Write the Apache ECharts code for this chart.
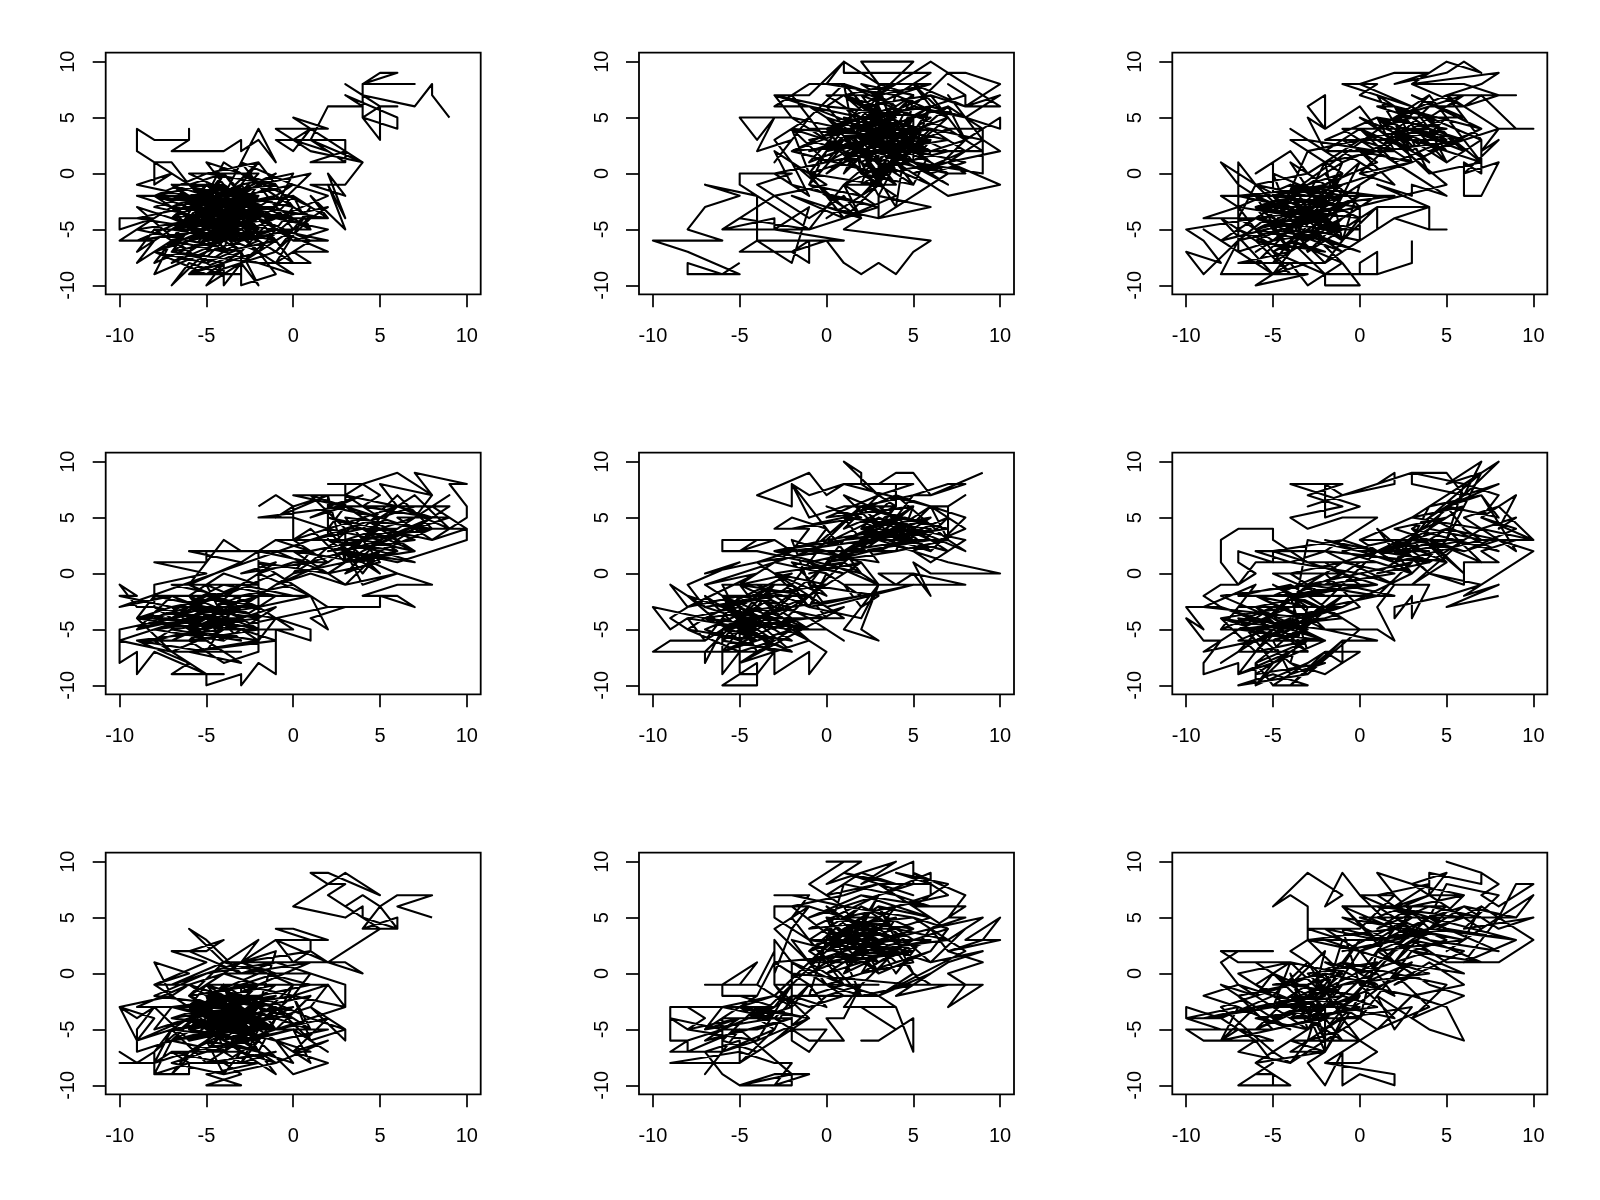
<!DOCTYPE html>
<html><head><meta charset="utf-8">
<style>html,body{margin:0;padding:0;background:#fff}#c{width:1600px;height:1200px}</style>
<script src="https://cdn.jsdelivr.net/npm/echarts@6/dist/echarts.min.js"></script>
</head><body><div id="c"></div>
<script>
const tickValues=[-10,-5,0,5,10];
const walk1=[[9,5],[8,7],[8,8],[7,6],[4,7],[3,8],[5,6],[4,7],[4,8],[7,8],[4,8],[5,9],[6,9],[4,8],[4,5],[5,6],[6,6],[5,6],[5,3],[4,5],[6,4],[6,5],[3,7],[4,6],[2,6],[1,3],[3,3],[3,1],[1,3],[4,1],[2,3],[0,5],[2,4],[-1,4],[0,3],[1,4],[0,2],[-1,3],[3,3],[3,2],[1,1],[3,1],[2,2],[0,3],[1,2],[4,1],[3,-1],[1,-1],[3,-2],[2,0],[3,-4],[2,-1],[3,-5],[1,-2],[2,-4],[0,-2],[1,-5],[-1,-3],[0,0],[-3,-1],[-2,1],[-4,-2],[-2,4],[-1,1],[-2,3],[-3,2],[-3,3],[-4,2],[-7,2],[-6,3],[-6,4],[-6,3],[-8,3],[-9,4],[-9,2],[-6,-1],[-7,1],[-8,1],[-8,-1],[-7,0],[-9,-1],[-6,-2],[-9,-2],[-7,-3],[-8,-4],[-10,-4],[-10,-5],[-8,-4],[-10,-6],[-8,-6],[-9,-8],[-7,-6],[-8,-9],[-5,-7],[-7,-10],[-6,-8],[-4,-9],[-5,-10],[-4,-8],[-4,-10],[-3,-8],[-2,-10],[-3,-7],[-3,-10],[-1,-9],[-2,-7],[0,-9],[-2,-8],[1,-8],[0,-7],[2,-7],[-1,-5],[2,-6],[0,-6],[2,-5],[-1,-4],[2,-4],[-2,-3],[0,-1],[-3,-2],[-1,0],[-5,-3],[-4,0],[-6,-4],[-3,-5],[-7,-4],[-4,-6],[-7,-7],[-5,-5],[-8,-5],[-6,-7],[-3,-4]];
const core1=[-6,-1,-4,-4,-2,-2,-5,-2,-2,-6,-5,-4,-3,-1,-6,-3,-2,-5,-7,-2,-4,-3,-1,-2,-5,-6,-2,-4,-6,-6,-3,-3,-7,-5,-3,-6,-6,-2,-1,-1,-5,1,-4,-1,-7,-3,-4,-5,-1,-6,-4,-7,-6,-5,-3,-2,-5,-1,-2,-3,-6,0,-2,0,-5,-5,-1,-4,-4,-2,-6,-4,-3,-6,-5,-8,-2,-6,-4,-3,-7,-6,-4,-4,-1,-3,-5,-3,-3,-5,-6,-6,-3,-7,-5,-4,-2,-5,-4,-1,-6,-3,-3,-4,-5,-7,-4,-5,-7,-4,-3,-3,-5,-2,-2,-2,-4,-6,-6,-5,-3,-1,-1,-5,-5,-6,-3,-2,-6,-2,-2,-4,-4,-4,-7,-7,-4,-8,-2,-7,-6,-9,-3,-9,-5,-9,-8,-7,-5,-5,-9,-6,-6,-4,-8,-2,-5,0,-2,1,0,-3,-3,0,1,-3,-1,-7,1,-4,-2,-1,0,-5,-3,-6,-6,-3,-4,-1,-5,-6,-1,-2,-6,-7,-3,-2,-4,-5,-2,-1,-7,-5,-3,-4,-5,-3,-2,-7,-6,-1,-4,-2,-1,-5,-5,-7,-3,-3,-6,-4,-4,0,-2,-4,-5,-1,-7,-6,-3,-5,-1,-3,-4,-6,-6,-2,-2,-3,-5,-5,-3,-6,-7,-1,-4,-4,-2,-7,-5,-2,-6,-3,-1,-4,-4,-6,-3,-3,-2,-5,-5,-2,-6,-5,-4,-3,0,-2,-3,-7,-6,-4,-1,-5,-4,-2,-2,-6,-5,-3,-4,-7,-3,-1,-6,-4,-5,-2,-4,-5,-2,-4,-7,-3,-6,-5,-2,-3,-3,-6,-4,-1,-1,-4,-6,-2,-3,-5,-5,-4,-2,-6,-7,-4,-3,-1,-5,-3,-1,-6,-4,-5,-6,-7,-2,-2,-4,-3,-6,-6,-3,-4,-5,-1,-2,-5,-4,-6,-7,-3,-4,-2,-2,-4,-5,-5,-3,-3,-1,-3,-6,-4,-4,-7,-2,-5,-6,-1,-4,-3];
const fill1=[-8,-2,-5,-1,-7,-4,-9,-3,-6,-7,-8,-5,-9,-7,-6,-4,-8,-8,-5,-6,-7,-8,-4,-6,-6,-9,-3,-7,-5,-9,-1,-7,-3,-5,0,-8,-2,-4,1,-6,-1,-8,1,-3,0,-5,-2,-7,2,-3,-1,-4,2,-2,0,-1,-3,1,-1,-3,1,0,-2,-1,-4,1,-5,-2,-7,-1,-4,-1,-8,-3,-5,-4,-9,-5,-6,-6,-8,-7,-5,-8,-3,-6,-6,-5,-7,-7,-2,-8,-4,-7,-7,-6,-4,-9,-1,-6,-3,-8,0,-4,-4,-3,-1,-1,-5,0,-8,-2,-6,-3,-9,-4,-5,-5,-2,-7,0,-3,-3,-2,1,-5,-1,-5,-4,0,-6,-1,-3,-3,0,-6];
const walk2=[[-5,-8],[-6,-9],[-8,-8],[-8,-9],[-5,-9],[-8,-7],[-10,-6],[-6,-6],[-8,-5],[-7,-3],[-5,-2],[-7,-1],[-4,-2],[-5,-1],[-5,0],[-2,0],[-4,-1],[-3,-2],[-6,-5],[-3,-4],[-3,-5],[-1,-5],[-5,-4],[-6,-5],[-1,-5],[-4,-2],[-4,-6],[-1,-6],[1,-6],[-3,-5],[-1,-3],[-2,-8],[-3,-7],[-4,-6],[-5,-7],[-2,-7],[-1,-6],[-1,-8],[-2,-7],[0,-6],[1,-8],[2,-9],[3,-8],[4,-9],[5,-7],[6,-6],[1,-5],[2,-4],[0,-3],[3,-4],[3,-2],[6,-3],[3,-4],[4,-3],[5,-2],[7,0],[6,-1],[7,-2],[10,-1],[7,1],[8,0],[7,0],[5,1],[9,0],[9,3],[10,2],[7,1],[9,3],[9,4],[8,3],[10,5],[10,4],[8,5],[10,7],[8,6],[10,8],[8,9],[7,9],[10,6],[8,6],[8,7],[7,8],[8,7],[6,6],[8,5],[5,6],[7,9],[6,10],[4,8],[6,8],[3,7],[5,10],[2,10],[3,8],[1,10],[1,9],[6,9],[4,7],[0,8],[1,10],[-1,7],[-3,7],[-2,5],[-5,5],[-4,3],[-3,5],[-4,2],[-2,3],[-3,1],[-1,5],[1,8],[-1,8],[-3,6],[-1,6],[-3,7],[0,6],[1,7],[4,8],[2,6],[6,7],[3,5]];
const core2=[1,0,3,6,0,2,5,4,-1,4,2,1,6,5,3,2,7,3,1,5,4,-1,2,3,6,2,0,5,3,0,5,6,1,3,4,4,-1,1,2,6,6,1,3,3,0,0,5,5,2,2,7,5,4,1,1,6,3,4,-1,2,6,4,2,-2,5,3,0,4,4,6,2,0,7,2,3,5,1,1,5,7,3,1,-1,3,4,5,2,4,6,3,0,1,3,7,5,2,1,-1,4,3,-2,2,2,5,6,6,3,-1,0,3,5,1,2,7,7,4,4,2,1,4,-1,0,5,3,3,2,6,5,0,6,4,-1,2,1,3,-2,5,4,1,7,3,6,2,2,0,4,4,7,2,-1,6,3,5,1,1,4,3,0,-2,2,5,6,4,3,3,8,3,1,0,4,6,2,5,-1,2,5,1,3,4,0,3,6,2,2,3,-1,4,4,5,7,1,3,0,1,6,6,5,2,2,5,3,3,7,-1,1,4,2,1,4,3,-1,6,3,2,5,5,0,0,3,4,6,2,1,7,4,3,3,1,2,5,6,4,0,2,-1,-1,3,6,4,3,5,1,1,5,2,4,4,2,7,6,1,3,4,0,2,5,3,1,6,3,-2,4,2,2,3,7,3,-1,5,5,5,1,4,3,1,8,2,0,0,4,3,4,6,2,2,2,6,6,3,3,1,0,5,7,4,-3,2,2,3,-1,-1,0,1,-4,-2,-2,0,-3,2,-4,1,-1,-1,-5,3,-3,-2,-1];
const fill2=[-3,2,-1,0,-2,4,0,1,-3,0,-1,-2,-2,1,1,-3,-1,-1,2,-2,0,-4,3,-1,1,-4,4,-2,2,0,5,-1,3,1,6,-1,4,1,7,0,5,2,8,1,6,0,8,3,6,2,9,2,7,4,9,4,7,6,8,3,6,7,8,6,5,8,7,5,4,7,6,8,3,8,5,7,2,8,4,6,1,8,3,7,0,7,2,5,-1,6,1,4,-2,5,0,3,-2,7,-1,5,-3,3,-2,1,0,-1,-3,-2,-1,-4,1,-2,2,-4,0,-2,3,-3,1,-1,4,-1,3,0,7,1,5,0,8,2,6,4,9,3,7,7,8,5,6,6,5,8];
const walk3=[[3,-6],[3,-8],[1,-9],[0,-9],[0,-8],[1,-7],[1,-9],[-2,-9],[-2,-10],[0,-10],[-1,-8],[-3,-10],[-4,-8],[-6,-10],[-3,-9],[-8,-9],[-7,-6],[-9,-9],[-10,-7],[-8,-8],[-9,-6],[-10,-5],[-6,-4],[-9,-4],[-7,-3],[-8,-2],[-6,-2],[-7,-1],[-8,1],[-6,-1],[-7,1],[-7,-5],[-7,-7],[-5,-6],[-7,-4],[-6,-1],[-3,0],[-4,2],[-6,0],[-5,1],[-5,-2],[-2,-1],[-3,-2],[-1,0],[-4,3],[-3,3],[-4,4],[-2,2],[-3,5],[-2,4],[-3,6],[-2,7],[-2,4],[0,6],[1,4],[3,5],[1,6],[2,6],[4,5],[0,7],[1,8],[-1,8],[3,6],[0,8],[2,9],[4,9],[2,8],[5,9],[6,10],[7,9],[5,10],[4,9],[3,8],[8,9],[7,8],[5,7],[9,7],[8,7],[6,6],[7,7],[9,4],[10,4],[8,4],[7,2],[8,3],[6,0],[8,1],[7,-2],[6,-2],[6,1],[7,0],[7,3],[5,1],[3,3],[7,1],[4,0],[2,3],[5,4],[1,5],[3,2],[0,4],[2,1],[5,3],[1,3],[4,4],[-1,4],[3,0],[5,-2],[3,-1],[3,-2],[1,-1],[4,-3],[2,-4],[1,-5],[1,-3],[4,-3],[4,-5],[5,-5],[4,-5],[2,-4],[0,-6],[0,-3]];
const core3=[-2,0,-1,-2,2,-2,-3,-3,0,1,-2,-5,1,-2,-4,-1,0,-4,-5,-3,-1,1,-3,-6,-1,-3,-6,-5,-2,-2,-5,-6,-1,-5,-6,-3,-2,-4,-7,-6,-3,-1,-5,-4,0,-7,-4,-5,-6,-7,-2,-3,-4,-3,-7,-2,-1,-1,-5,-5,-2,-6,-4,-2,-6,-4,-1,-7,-3,-5,-4,-6,-2,-7,-6,-6,-3,-4,0,-2,-5,-7,-1,-4,-3,-7,-4,-4,-6,-2,-3,-2,-2,1,-1,-6,-5,-2,-2,-2,-6,-8,-3,-8,-5,-9,-4,-7,-7,-8,-2,-8,-4,-5,-6,-3,-2,-1,1,1,-1,3,-2,2,2,2,0,3,3,4,6,3,4,2,7,4,3,7,6,5,2,5,5,7,8,7,6,8,3,8,6,6,4,6,0,0,2,-1,0,2,3,1,-3,-2,-6,-1,-4,-4,-1,-1,-5,-6,-2,-3,-6,-3,-4,-2,-2,-5,0,-3,-5,-2,-1,0,-3,-6,-6,-5,-1,-2,-4,-1,-7,-3,-3,-4,0,-5,-2,-5,-6,-4,-1,-3,-5,-2,-3,-6,-1,-2,-6,-3,-4,-7,-2,-2,-5,0,-4,-4,-6,-1,-1,-5,-3,-3,-1,-6,-4,1,-2,-1,-5,-5,-3,2,3,4,6,2,1,5,3,3,2,6,5,1,4,4,1,7,3,2,5,5,2,3,4,0,2,6,7,4,3,1,2,5,6,3,1,2,4,7,1,4,5,-1,3];
const fill3=[-8,-6,-6,-8,-9,-5,-7,-7,-5,-9,-8,-4,-6,-6,-4,-9,-7,-3,-5,-7,-2,-9,-4,-6,-1,-8,-3,-5,0,-6,-2,-8,0,-4,-3,-7,1,-3,-1,-6,0,-1,-2,-3,1,0,-1,2,-3,0,0,3,-2,1,1,2,-3,3,-1,1,2,3,0,0,3,1,1,3,-1,3,0,4,2,2,1,5,-2,3,3,3,0,5,4,1,2,4,5,2,3,6,6,2,4,5,7,3,5,7,8,4,6,3,4,7,7,1,3,6,1,7,5,3,3,4,6,7,2,5,-6,-4,-8,-6,-5,-3,-7,-5,-4,-7,-6,-2,-3,-4,-5,-8,-2,-5,-4,-1,-1,-3];
const walk4=[[-2,6],[-1,7],[0,6],[-1,5],[2,7],[0,6],[0,3],[2,4],[0,5],[-2,5],[3,6],[0,7],[1,7],[3,7],[4,8],[2,8],[3,8],[3,6],[1,7],[3,4],[3,1],[2,7],[2,3],[-1,3],[1,2],[-1,2],[-5,2],[-3,2],[-4,3],[-5,1],[-5,2],[-6,2],[-3,1],[-6,-1],[-5,1],[-8,1],[-5,0],[-8,-1],[-8,-3],[-9,-3],[-10,-1],[-9,-2],[-10,-2],[-7,-3],[-9,-4],[-7,-4],[-10,-5],[-10,-7],[-10,-8],[-9,-7],[-9,-9],[-8,-7],[-5,-9],[-6,-8],[-7,-9],[-4,-9],[-5,-9],[-5,-10],[-3,-9],[-3,-10],[-2,-8],[-1,-9],[-1,-5],[1,-6],[1,-5],[-1,-4],[2,-3],[3,-3],[1,-4],[2,-5],[1,-2],[2,-3],[5,-3],[5,-2],[7,-3],[6,-2],[4,-2],[6,-1],[8,-1],[6,0],[4,-1],[3,2],[6,1],[8,2],[10,3],[10,4],[8,3],[10,5],[10,6],[9,8],[10,8],[7,9],[8,7],[6,9],[4,8],[5,7],[4,6],[8,5],[6,6],[9,4],[7,7],[5,5],[3,4],[6,4],[2,2],[7,3],[4,5],[1,1],[5,3],[3,0],[6,2],[2,3],[5,0]];
const core4=[3,3,7,5,4,2,2,0,5,1,3,5,8,4,6,7,4,4,1,3,7,6,3,6,5,6,9,6,6,3,4,1,0,2,3,-1,1,0,-1,-1,2,1,0,1,-2,0,1,-2,-1,0,-4,-2,0,-2,-3,-1,-6,-3,-2,-3,-5,-2,-8,-4,-3,-5,-7,-2,-2,-5,-6,-6,-4,-3,-9,-4,-5,-5,-1,-3,-4,-6,-8,-5,-3,-3,-6,-1,-2,-4,-7,-5,-3,-6,-5,-3,-9,-5,-4,-1,-1,-2,-5,-6,-8,-6,-3,-4,-6,-4,-2,-2,-7,-6,-4,-4,-2,-6,-6,-5,-4,-7,-8,-3,-5,-4,-1,-6,-6,-7,-3,-7,-7,-7,-4,-5,-9,-6,-5,-7,-3,-2,-6,-2,-4,0,-2,-1,-7,-1,-4,-2,-1,1,-3,0,1,1,-2,2,-2,-7,-4,-8,-6,-6,-3,-3,-7,-4,-5,-2,-2,-4,-6,-3,-3,-5,-8,-4,-4,-2,-7,-3,-5,-6,-2,-3,-6,-4,-3,-2,-8,-2,-5,-3,-1,-4,-4,-5,-7,-4,-3,-1,-6,-5,-4,-3,-2,-5,-5,-4,-8,-5,-3,-4,-6,-2,-4,-6,-7,-3,-2,-3,-5,-1,-4,-4,-6,-5,-3,-3,1,1,3,2,5,4,2,5,6,3,3,6,7,4,4,2,8,5,5,3,2,4,6,6,4,3,7,2,3,1,5,5,1,3];
const fill4=[-10,-3,-7,-2,-9,-5,-6,-4,-10,-6,-7,-7,-9,-4,-8,-2,-5,-3,-8,-6,-6,-8,-9,-6,-5,-6,-3,-8,-6,-7,-2,-6,-1,-4,-4,-5,0,-5,-2,-3,1,-2,-3,-2,0,-1,-2,1,2,0,-1,2,1,2,0,0,3,1,1,4,0,3,2,1,4,3,2,3,5,2,3,1,6,2,4,4,7,2,5,4,8,3,6,5,9,5,7,4,10,4,8,6,6,4,9,7,7,5,8,7,5,8,6,6,3,7,5,5,2,6,4,7,1,5,3,6,2,4,4,0,5,2,7,1,3,2,6,0,3,-1,5,2,8,4,4,3,1,2,-1,3,-3,1];
const walk5=[[9,9],[6,7],[5,7],[7,8],[8,8],[6,7],[5,9],[4,9],[3,8],[4,8],[4,6],[2,8],[2,9],[1,10],[3,7],[5,8],[1,8],[6,6],[7,6],[8,7],[7,6],[7,3],[8,2],[5,4],[8,3],[6,1],[5,2],[7,1],[10,0],[6,0],[5,1],[6,-2],[5,0],[8,-1],[4,-1],[5,0],[3,0],[4,-1],[1,-1],[2,-3],[3,-2],[-1,-1],[0,-3],[5,-1],[-1,-3],[2,-4],[3,-1],[1,-5],[3,-6],[2,-5],[3,-1],[2,1],[-2,-3],[2,-2],[-1,1],[-4,2],[-6,2],[-6,3],[-3,3],[-2,2],[-3,3],[-5,2],[-4,3],[-3,3],[-2,2],[-1,4],[-3,4],[-2,5],[0,4],[-1,6],[-2,8],[-2,6],[-4,7],[-1,9],[0,7],[1,8],[-1,7],[-2,8],[-1,5],[1,6],[4,6],[1,4],[3,7],[0,5],[5,6],[2,3],[6,5],[1,2],[4,4],[0,3],[2,6],[-1,2],[3,5],[6,3],[2,2],[5,5],[0,1],[4,2],[-2,2],[7,4],[1,3],[3,4],[5,3],[2,4],[4,7],[1,5],[6,4],[3,2],[0,2],[2,1],[-1,0],[1,1],[-3,0],[0,-1],[-4,-2],[-1,-2],[-5,-1],[-2,0]];
const core5=[-6,-3,-3,-2,-7,-3,-3,-5,-5,-1,-1,-4,-6,-5,-2,-6,-7,-1,-4,-4,-8,-2,-5,-6,-2,-2,-6,-2,-3,-7,-7,-5,-4,-3,-1,-5,-5,-4,-2,-4,-6,-7,-4,-6,-7,-4,-3,-3,-6,-6,-2,-7,-5,-3,-8,-4,-4,-5,-6,-4,-3,-6,-7,-2,-5,-5,-3,-1,-7,-7,-4,-7,-6,-1,-2,-1,-4,1,-7,0,-5,1,-8,-1,-7,-3,-9,-1,-8,-3,-9,-4,-8,-5,-7,-4,-10,-3,-9,-5,-8,-4,-7,-6,-9,-6,-10,-7,-7,-7,-7,-8,-6,-5,-6,-9,-5,-7,-5,-9,-4,-8,-4,-9,-3,-7,-3,-9,-2,-8,-1,-7,-1,-9,0,-7,-2,-5,0,-5,1,-6,-1,-4,1,-3,-5,-8,-5,-9,-4,-9,-4,-10,-6,-10,-5,-9,-5,-2,-2,-3,-4,-1,-1,-3,-3,0,0,-2,-2,1,1,0,-1,1,2,2,-3,2,0,3,-2,-1,-5,-4,-3,-2,-6,-3,-3,-5,-1,-2,-4,-4,-6,-5,-2,-3,-5,-6,-3,-4,-6,-2,-4,-7,-2,-5,-7,-4,-3,-1,-5,-3,-1,-6,-4,-2,-6,-6,-3,-3,1,2,3,3,5,2,2,4,6,5,3,2,5,4,1,3,4,5,7,4,2,6,4,3,6,2,3,5,1,1,5,6,4,2,7,3,2,3,4,6,3,4];
const fill5=[-7,-1,-4,0,-8,-3,-5,-2,-7,-6,-4,-3,-6,-7,-2,-5,-5,-8,-1,-6,-3,-4,1,-4,-2,-1,-1,-3,0,0,-3,1,-5,-1,-2,2,-4,1,0,2,-2,3,-1,-1,1,3,-3,2,2,0,0,4,-1,2,3,1,1,5,-2,4,2,5,0,6,3,4,1,7,4,5,2,6,5,7,3,3,6,6,4,3,7,5,5,2,8,4,6,6,7,3,4,7,8,5,6,2,3,6,5,4,7,2,2,4,4,5,1,2,5,3,0,1,3,-1,1,1,-1,-2,0,-4,-3,-3,-5,-5,-2,-7,-6,-4,-4,-6,-8,-5,-5,-7,-3,-6,-6,-3,-1,-5,-4,-2];
const walk6=[[8,-2],[5,-3],[8,-1],[6,-2],[10,2],[8,3],[10,3],[7,4],[9,5],[8,4],[9,7],[7,5],[8,7],[6,8],[7,9],[5,8],[7,10],[6,7],[8,10],[6,8],[3,9],[3,8],[6,7],[5,9],[3,9],[1,8],[2,9],[2,8],[-1,7],[1,8],[-3,6],[-1,7],[-2,8],[-2,5],[0,6],[-4,8],[-1,8],[-3,7],[-1,6],[-4,5],[-3,4],[-1,5],[1,5],[-2,2],[-5,2],[-3,1],[-5,3],[-5,4],[-7,4],[-8,3],[-8,1],[-7,-1],[-6,0],[-7,1],[-7,2],[-5,1],[-5,2],[-6,2],[-4,1],[-6,1],[-7,-1],[-8,-1],[-9,-2],[-8,-3],[-10,-3],[-9,-5],[-10,-4],[-9,-6],[-8,-6],[-9,-8],[-9,-9],[-7,-8],[-7,-9],[-5,-8],[-6,-10],[-6,-8],[-5,-10],[-3,-10],[-5,-9],[-7,-10],[-3,-9],[-4,-8],[-2,-9],[-1,-8],[-2,-7],[0,-7],[-1,-8],[-1,-6],[1,-6],[-2,-5],[1,-5],[2,-6],[1,-3],[2,-1],[4,-1],[3,-4],[3,-2],[2,-4],[2,-3],[5,-2],[7,-1],[4,0],[6,-1],[6,1],[8,1],[7,2],[9,3],[7,3],[6,4],[5,6],[8,5],[7,7],[4,6],[3,3],[6,2],[2,4],[5,5],[1,2],[4,3],[0,3],[3,5],[6,6],[2,2],[4,1],[1,0]];
const core6=[3,2,5,4,-1,1,2,0,-2,-1,0,1,-3,1,1,-1,-4,-2,-1,0,-5,0,-2,-2,-6,-2,-3,-3,-7,-3,-1,-3,-5,-4,-8,-2,-3,-1,-6,-5,-2,-4,-7,-5,-4,-3,-8,-4,-4,-6,-1,-2,-5,-6,-3,-5,-6,-4,-2,-6,-7,-6,-4,-4,-6,-7,-3,-7,-5,-5,-8,-5,-5,-3,-2,-3,-4,-1,-7,-2,-3,-2,0,-1,-2,1,1,1,3,0,-1,2,2,3,4,2,0,2,-3,3,-4,-5,-6,-6,-7,-7,-5,-7,-4,-7,-6,-9,-2,-8,-4,-9,-5,-6,-3,-4,-6,-2,-2,-5,-7,-4,-4,-8,-3,-3,-5,-1,-1,-4,-4,-2,-7,-7,-5,-5,-2,-3,-6,-8,-3,-6,-8,-3,-4,-5,0,-3,-2,0,-5,-2,1,-1,-3,-1,-1,1,-4,0,-2,-2,1,-2,3,1,0,0,2,-1,-2,2,4,1,2,3,6,3,3,2,5,6,4,4,7,3,2,1,4,5,8,2,3,4,6,7,2,2,5,3,3,0,-1,-3,-5,-4,-2,-6,-6,-3,-3,-7,-4,-2,-2,-5,-7,-4,-5,-8,-6,-6,-3,-4,-1,-3,-6,-5,-4,-2,-1,-1,-3,-4,-2];
const fill6=[-9,-3,-6,-1,-8,-5,-5,-3,-9,-7,-6,-6,-8,-8,-5,-5,-7,-9,-4,-7,-6,-10,-3,-8,-5,-10,-2,-7,-4,-10,-1,-6,-3,-9,0,-5,-2,-3,1,-2,-3,-1,0,0,-4,1,-2,2,-5,2,-1,3,1,2,-2,3,2,1,0,3,3,0,1,4,4,0,2,3,5,1,3,4,6,0,4,3,7,1,5,4,8,3,6,2,9,4,7,5,10,3,8,6,6,5,9,2,7,7,5,6,8,8,6,7,4,5,7,9,5,3,6,8,3,5,7,4,4,1,6,3,3,-1,5,1,1,2,-1,-1,2,-2,-3,-2,-6,-3,-4,-5,-8,-4,-6,-7,-3,-6,-5,-8,-2,-6,-7,-5,-1,-4];
const walk7=[[8,5],[6,6],[8,7],[6,7],[5,6],[6,4],[6,5],[4,4],[5,6],[4,7],[3,6],[5,4],[2,7],[3,8],[2,8],[1,9],[2,9],[5,7],[3,9],[0,6],[3,5],[4,6],[4,5],[6,4],[4,4],[5,4],[2,1],[1,2],[1,3],[2,3],[0,4],[-1,4],[1,3],[-1,3],[-2,2],[-3,1],[1,2],[0,1],[-1,3],[2,1],[3,1],[4,0],[2,1],[-1,1],[1,0],[3,-1],[3,-3],[2,-1],[1,-3],[3,-5],[3,-6],[1,-3],[-1,-4],[1,-5],[-1,-5],[2,-5],[-1,-6],[1,-7],[0,-7],[2,-8],[0,-9],[-2,-6],[-4,-8],[-3,-9],[-5,-10],[-3,-10],[-5,-9],[-2,-8],[-6,-8],[-8,-9],[-8,-7],[-9,-8],[-10,-7],[-9,-8],[-10,-8],[-8,-8],[-7,-7],[-6,-8],[-6,-9],[-8,-9],[-7,-6],[-9,-7],[-9,-5],[-8,-3],[-6,-6],[-8,-3],[-9,-4],[-10,-3],[-9,-6],[-8,-4],[-10,-3],[-7,-2],[-6,-1],[-8,-1],[-7,-2],[-8,1],[-6,0],[-8,-1],[-5,1],[-7,2],[-5,2],[-4,3],[-6,2],[-3,0],[-5,3],[-6,4],[-4,1],[-2,3],[-3,1],[-1,0],[-3,-1],[-5,-2]];
const core7=[-2,-2,-6,-3,-3,-3,-6,-5,-2,-4,-5,-1,-1,-3,-5,-5,-2,-1,-6,-2,-3,-5,-7,-4,-3,-2,-6,-6,-1,-2,-4,-4,-7,-5,-2,-6,-5,-3,-3,-7,-6,-4,-4,-1,-1,-1,-5,-6,-2,-3,-4,-2,-6,-1,-3,-4,-5,-4,-2,-5,-4,-6,-6,-3,-3,-3,-5,-7,-2,-2,-7,-3,-4,-3,-1,-5,-4,-5,-6,-7,-3,-6,0,-2,-3,-1,-5,-2,-2,0,-4,0,-6,-2,-3,-4,-1,-4,-5,-5,-3,-2,-6,-5,-2,-3,-4,-7,-7,-6,-3,-5,-5,-1,-1,-1,-4,-2,-2,-5,-6,-4,-3,-3,-5,-3,-2,-1,-4,-4,0,-3,-4,-6,-2,-7,-5,-6,-3,-8,-1,-7,-5,-8,-4,-8,-7,-7,-3,-7,-1,-8,-4,-9,-7,-8,-5,-7,0,-5,-3,-6,1,-4,-2,-2,1,-1,-4,1,-1,1,-3,0,1,0,0,-2,-4,-3,-2,-4,-6,-6,-3,-5,-5,-2,-2,-3,-4,-1,-5,-4,-3,-2,-6,-3,-4,-5,-2,-6,-4,-4,-1,-2,-5,-3,-2,-7,-4,-1,-3,-6,-5,-5,-3,-4,-2,-6,-6,-2,-1,-5,-4,-3,-6,-4,-3,-6,-1,-3,-5,-2,-4,-7,-2,-4,-5,-1,-6,-3,-3,-5,-2,-2,-7,-6,-5,-3,0,-4,-4,-2,-1,-5,-6,-3,-2,-4,-3,-6,-4,-2,-6,-3,-1,-5,-3,-1,-3,-4,-5,-2,-2,-6,-3,-3,-7,-4,-1,-5,-5,-2,-4,-6,-2,-3,-6,-4,-4,-1,-2,-5,-7,-3,-3,-4,-5,-2,-1,-6,-6,-4,-3,-5,-2,-3,-4,-1,-6,-5,-2,-6,-4,-3,-3,-2,-5,-4,-1,-4,-7,-5,-4,-2,-3,-3];
const fill7=[-8,-2,-5,0,-7,-1,-4,1,-6,-2,-3,1,-5,0,-1,1,-3,0,1,1,-2,-1,2,-1,0,-2,3,-3,1,-4,3,-5,1,-6,2,-7,0,-5,1,-8,-1,-6,0,-8,-2,-7,-1,-9,-3,-7,-4,-9,-5,-6,-7,-9,-6,-7,-8,-8,-7,-5,-9,-6,-6,-4,-8,-5,-7,-3,-9,-3,-6,-1,-4,0,-2,-1,0,-1,-3,1,-1,2,-2,-3,1,-2,-1,-5,2,-4,0,-7,2,-6,-1,-8,-3,-6,-5,-8,-7,-5,-8,-7,-5,-3,-7,-6,-2,-4,0,-1,-2,-7,-1,-4,-3,-8,-2,-5,-1,-3,1,-5,0,-2,1,-6,-1,-3,-6,-7,-4,-5,-7,-2];
const walk8=[[-2,-9],[-5,-10],[-3,-9],[-1,-9],[-3,-10],[-5,-10],[-6,-9],[-7,-7],[-5,-6],[-5,-8],[-9,-8],[-5,-7],[-3,-8],[-2,-8],[-3,-10],[-2,-10],[-2,-9],[-5,-5],[-7,-9],[-5,-5],[-8,-7],[-9,-7],[-8,-6],[-9,-6],[-9,-5],[-9,-3],[-6,-3],[-8,-3],[-7,-4],[-8,-5],[-9,-4],[-6,-5],[-8,-6],[-8,-7],[-6,-7],[-6,-4],[-4,-2],[-6,-2],[-6,-1],[-7,-1],[-5,-1],[-4,1],[-6,-1],[-4,-1],[-3,2],[-3,-1],[-2,-3],[-2,1],[-3,3],[-3,0],[-2,4],[-1,6],[-3,6],[-3,5],[-2,4],[-1,3],[-2,5],[-1,7],[-3,7],[-2,7],[1,6],[-1,8],[1,10],[0,10],[2,10],[0,8],[2,9],[4,10],[2,8],[5,10],[5,8],[3,7],[6,9],[6,7],[4,6],[7,7],[5,9],[8,7],[7,5],[8,5],[6,4],[7,2],[9,3],[10,5],[8,3],[10,3],[7,2],[9,1],[7,0],[8,-1],[9,-1],[7,-3],[8,-1],[6,-1],[5,0],[4,-1],[3,-2],[4,-3],[2,-3],[4,-5],[3,-6],[2,-6],[3,-6],[5,-4],[5,-7],[4,-3],[1,-3],[2,-1],[1,-4],[0,-4],[1,-6],[-1,-6],[-2,-5],[0,-5],[-1,-7],[-2,-6],[-2,-3],[-4,-4],[-4,-3],[-6,-6],[-4,-7],[-1,-4],[-3,-6],[0,-2],[-2,-2],[0,-3],[-1,-1],[-3,-4],[-5,-3],[-3,-2],[-1,-3],[1,-2]];
const core8=[-1,0,1,2,-1,1,2,1,0,4,3,2,-1,3,1,5,4,3,0,2,2,5,5,2,1,1,3,4,-1,2,2,6,5,4,0,5,3,1,6,3,1,3,4,5,0,1,2,3,6,5,3,6,5,1,2,0,4,2,0,0,3,3,1,4,4,4,7,3,2,2,5,3,1,0,3,5,0,3,2,4,4,1,6,2,3,0,1,6,5,5,-1,4,3,7,-1,5,2,7,6,6,4,7,1,8,-1,-2,1,-1,3,-1,0,-1,2,-2,5,-1,-2,0,-3,1,-4,-2,-5,-2,-3,-3,-6,-5,-4,-5,-2,-4,-5,-4,-7,-5,-6,-3,-3,-2,1,4,3,1,0,5,2,2,4,6,0,2,3,4,1,0,5,3,2,6,-1,3,4,3,1,5,3,5,6,1,2,3,0,6,4,2,1,1,5,4,3,3,-1,1,2,5,4,0,6,4,1,2,3,7,2,4,0,3,5,2,1,5,3,4,-1,0,2,2,4,6,1,3,3,1,-2,3,0,-1,6,2,7,4,5,3,2,0,4,5,1,4,3,2,6,3,0,1,-1,2,3,6,5,0,4,2,1,3,2,5,-4,-4,-2,-2,-3,-5,-5,-3,-1,-4,-4,-6,-2,-1,-3,-3];
const fill8=[-6,-3,-3,-4,-7,-5,-4,-2,-6,-4,-2,-4,-7,-6,-5,-4,-8,-5,-4,-6,-6,-7,-3,-5,-5,-8,-2,-5,-4,-3,-1,-4,-3,-1,0,-1,-2,1,1,-1,-1,3,2,-2,0,5,3,0,-2,6,1,7,3,8,0,7,2,9,4,8,1,9,5,7,3,8,6,8,4,9,7,8,5,6,8,6,6,4,9,5,7,3,8,4,6,1,9,2,7,1,5,-1,7,-1,4,-2,6,0,3,-2,8,2,5,5,7,4,3,8,6,5,2,7,4,6,1,5,-1,6,-3,4,-1,1,1,-1,3,-2,0,-2,2,-1,4,2,-3,1,-1,-1,-2,-3,-4,-1];
const walk9=[[-5,-5],[-7,-5],[-10,-5],[-9,-6],[-10,-5],[-8,-5],[-10,-4],[-8,-4],[-10,-3],[-10,-4],[-7,-3],[-9,-2],[-7,-1],[-8,1],[-7,2],[-5,2],[-8,2],[-7,1],[-4,1],[-7,0],[-5,-2],[-3,1],[-4,2],[-3,3],[-3,6],[-4,7],[-5,6],[-3,9],[-2,8],[-1,7],[-2,6],[-1,9],[0,7],[2,7],[1,9],[3,8],[5,9],[4,7],[4,9],[7,8],[7,9],[5,10],[7,9],[8,8],[7,7],[8,6],[10,8],[9,8],[8,5],[10,7],[9,5],[8,5],[7,6],[9,4],[10,3],[8,1],[5,1],[3,3],[6,2],[2,-1],[4,1],[6,-1],[3,-2],[5,-3],[6,-6],[4,-5],[3,-4],[1,-2],[2,-5],[3,-3],[-1,-4],[0,-6],[-3,-6],[-1,-5],[1,-7],[0,-8],[-2,-8],[2,-9],[2,-10],[0,-9],[-1,-10],[-1,-7],[-2,-10],[-3,-8],[-2,-7],[-4,-7],[-3,-6],[-4,-8],[-5,-7],[-6,-8],[-4,-10],[-6,-10],[-7,-10],[-6,-9],[-5,-9],[-5,-10],[-7,-10],[-5,-8],[-6,-6],[-8,-6],[-7,-5],[-5,-6],[-9,-6],[-8,-6],[-7,-3],[-4,-5],[-7,-2],[-8,-1],[-6,-2],[-5,0],[-6,1],[-3,-2],[-1,1]];
const core9=[-4,-1,-2,2,-3,-4,0,3,-2,-1,-4,-3,1,1,-3,0,-1,-3,2,2,-2,-5,3,1,0,-1,-1,4,4,2,0,0,2,4,-3,3,1,3,5,4,-1,2,3,5,0,5,4,3,1,6,6,5,2,3,5,6,3,6,1,4,4,6,7,5,2,5,5,3,3,2,-1,5,6,3,1,2,3,0,-2,-3,-1,-2,1,-3,-4,-4,0,-4,-2,-6,-3,-1,-5,-3,1,0,-2,1,2,-2,0,2,-3,-5,-1,-1,4,0,-2,3,2,1,-1,6,2,6,4,5,-1,-2,-3,-4,-4,-2,0,-3,-5,-5,-2,-4,-4,-6,-1,-3,-6,-3,-3,-2,-1,-6,-5,-2,-2,-3,-6,-4,-3,-5,-4,0,-2,-7,0,-2,-4,-4,-1,0,-3,-1,-5,-1,-2,0,1,-1,-1,1,2,0,3,2,0,-4,1,2,4,4,2,1,3,3,6,6,4,5,5,4,2,6,4,7,1,5,3,4,6,3,7,6,2,2,5,5,3,5,1,3,4,4,6,7,3,6,2,3,0,2,4,5,9,5,6,6,8,4,10,5,6,4,8,7,5,8,4,5,9,3,4,4,2,7,0,4,-3,4,-1,3,-2,-2,-5,-4,-3,-3,-6,-5,-4,-2,-2,0,-1,-4,-3,-6,-2,-1,-5,-3,-3,-5,0,-2,-4,-1,-2,-3,-2,-7,-1,-4,-3,1,-1,-2];
const fill9=[-9,-4,-6,-3,-8,-6,-5,-5,-7,-2,-4,-1,-8,-3,-5,-7,-3,-5,-6,-8,-2,-7,-4,-6,0,-6,-2,-8,1,-5,-1,-3,2,-4,0,-1,3,-2,1,-5,4,-3,2,0,5,-1,3,-4,6,-2,4,-1,2,1,6,0,3,2,7,1,4,3,8,2,5,4,9,3,6,1,8,5,5,2,7,4,4,7,6,7,3,8,5,6,2,6,4,8,1,7,3,5,0,7,2,4,-1,6,1,3,-2,4,0,2,-3,3,-1,0,-4,1,-2,-2,-5,0,-3,-3,-6,-1,-4,1,-5,-3,-7,-1,-5,-2,-8,-4,-6,-6,-7,-7,-4,-8,-2,-6,-3,-3,-6,-5,-1,-1];

const pairs=f=>{const o=[];for(let k=0;k+1<f.length;k+=2)o.push([f[k],f[k+1]]);return o;};
const walks=[walk1.concat(pairs(core1),pairs(fill1)),walk2.concat(pairs(core2),pairs(fill2)),walk3.concat(pairs(core3),pairs(fill3)),walk4.concat(pairs(core4),pairs(fill4)),walk5.concat(pairs(core5),pairs(fill5)),walk6.concat(pairs(core6),pairs(fill6)),walk7.concat(pairs(core7),pairs(fill7)),walk8.concat(pairs(core8),pairs(fill8)),walk9.concat(pairs(core9),pairs(fill9))];

const left=[105.7,639,1172.3], top0=[52.7,452.7,852.7], W=375, H=241.6;
const grid=[],xAxis=[],yAxis=[],series=[];
const font={fontFamily:'"Liberation Sans",Arial,sans-serif',fontSize:20,color:'#000'};
walks.forEach((w,i)=>{
  const c=i%3,r=Math.floor(i/3);
  grid.push({left:left[c],top:top0[r],width:W,height:H,show:true,borderColor:'#000',borderWidth:1.8,backgroundColor:'#fff'});
  xAxis.push({type:'value',gridIndex:i,min:-10.8,max:10.8,splitLine:{show:false},axisLine:{show:false,onZero:false},
    axisTick:{show:true,length:13,lineStyle:{color:'#000',width:1.7},customValues:tickValues},
    axisLabel:{...font,margin:32,customValues:tickValues}});
  yAxis.push({type:'value',gridIndex:i,min:-10.8,max:10.8,splitLine:{show:false},axisLine:{show:false,onZero:false},
    axisTick:{show:true,length:13,lineStyle:{color:'#000',width:1.7},customValues:tickValues},
    axisLabel:{...font,margin:37,rotate:90,customValues:tickValues,align:'center',verticalAlign:'middle'}});
  series.push({type:'line',xAxisIndex:i,yAxisIndex:i,data:w,showSymbol:false,symbol:'none',smooth:false,animation:false,
    lineStyle:{color:'#000',width:2.1,join:'round'},clip:false,z:3});
});
const chart=echarts.init(document.getElementById('c'),null,{renderer:'canvas'});
chart.setOption({animation:false,backgroundColor:'#fff',grid,xAxis,yAxis,series});
</script></body></html>
